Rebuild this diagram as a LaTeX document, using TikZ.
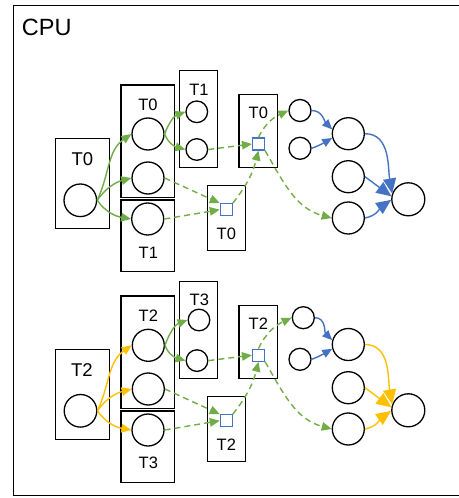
\documentclass[tikz,border=0pt]{standalone}
\usepackage{fontspec}
\setmainfont{Liberation Sans}
\usetikzlibrary{arrows.meta}
\definecolor{leafgreen}{HTML}{70AD47}
\definecolor{cblue}{HTML}{4472C4}
\definecolor{amber}{HTML}{FFC000}

% connectors of one pipeline: #1 name prefix, #2 colour of the fan-out, #3 colour of the merge
\newcommand\wiregroup[3]{%
  \draw[flow,color=#2] (#1cL.east) to[out=65,in=215] (#1cM1.west);
  \draw[flow,color=#2] (#1cL.east) to[out=55,in=195] (#1cM2.west);
  \draw[flow,color=#2] (#1cL.east) to[out=-55,in=170] (#1cB.west);
  \draw[gsolid] (#1cM1.east) to[out=70,in=200] (#1cS1.west);
  \draw[gsolid] (#1cM1.east) to[out=-70,in=165] (#1cS2.west);
  \draw[gdash] (#1cS2.east) -- (#1sqR.west);
  \draw[gdash] (#1cM2.east) -- (#1sqQ.north west);
  \draw[gdash] (#1cB.east) -- (#1sqQ.west);
  \draw[gdash] (#1sqQ.north east) to[bend right=12] (#1sqR.south);
  \draw[gdash] (#1sqR.north) to[out=65,in=205] (#1p1.west);
  \draw[gdash] (#1sqR.south east) to[out=-60,in=165] (#1m3.west);
  \draw[flow,color=cblue] (#1p1.east) to[out=0,in=135] (#1m1.165);
  \draw[flow,color=cblue] (#1p2.east) to[out=20,in=210] (#1m1.195);
  \draw[merge,color=#3] (#1m1.east) to[out=0,in=100] (#1big.160);
  \draw[merge,color=#3] (#1m2.east) -- (#1big.170);
  \draw[merge,color=#3] (#1m3.east) to[out=10,in=215] (#1big.182);
}

\begin{document}
\begin{tikzpicture}[x=1bp,y=-1bp,
  box/.style={draw,line width=1.4bp,inner sep=0pt},
  lbl/.style={font=\fontsize{16.5bp}{19bp}\selectfont,inner sep=0pt},
  bigl/.style={font=\fontsize{18.5bp}{21bp}\selectfont,inner sep=0pt},
  ring/.style={circle,draw,line width=1.3bp,inner sep=0pt,minimum size=#1},
  port/.style={draw=cblue,line width=1.1bp,minimum size=12bp,inner sep=0pt},
  flow/.style={line width=1.4bp,-{Triangle[length=10bp,width=8.5bp]}},
  gsolid/.style={flow,color=leafgreen},
  gdash/.style={flow,color=leafgreen,dash pattern=on 6bp off 4bp},
  merge/.style={line width=1.4bp,-{Triangle[length=15bp,width=13bp]}}]
\useasboundingbox (0,0) rectangle (459,498);

% outer frame
\node[box,minimum width=447.2bp,minimum height=490.4bp] (cpu) at (236.9,250.5) {};
\node[font=\fontsize{23.5bp}{28bp}\selectfont,inner sep=0pt] (cpulbl) at (46.7,27.5) {CPU};

% ---- upper pipeline ----
\node[box,minimum width=53.6bp,minimum height=90bp] (aboxL) at (82.5,183.3) {};
\node[bigl] (alabL) at (82.3,158.7) {T0};
\node[ring=32.6bp] (acL) at (80.3,200.3) {};
\node[box,minimum width=53.3bp,minimum height=112.3bp] (aboxM) at (147.7,141.2) {};
\node[lbl] (alabM) at (148,105) {T0};
\node[ring=32bp] (acM1) at (148,134) {};
\node[ring=32bp] (acM2) at (148,178) {};
\node[box,minimum width=53.3bp,minimum height=71.7bp] (aboxB) at (147.7,235.8) {};
\node[ring=32bp] (acB) at (147.7,219) {};
\node[lbl] (alabB) at (148.3,252.5) {T1};
\node[box,minimum width=38.4bp,minimum height=96.6bp] (aboxS) at (198.5,119) {};
\node[lbl] (alabS) at (199,89.5) {T1};
\node[ring=21.6bp] (acS1) at (196.8,111.8) {};
\node[ring=21.6bp] (acS2) at (196.8,149.5) {};
\node[box,minimum width=38.5bp,minimum height=73.4bp] (aboxR) at (258.3,131) {};
\node[lbl] (alabR) at (258.3,112.8) {T0};
\node[port] (asqR) at (258.5,144) {};
\node[box,minimum width=38.2bp,minimum height=64.8bp] (aboxQ) at (226.4,218.1) {};
\node[port] (asqQ) at (226.3,209.7) {};
\node[lbl] (alabQ) at (226.3,233.5) {T0};
\node[ring=22bp] (ap1) at (300,110.5) {};
\node[ring=22bp] (ap2) at (300,148.3) {};
\node[ring=32bp] (am1) at (348.3,133.7) {};
\node[ring=32bp] (am2) at (348.3,176.7) {};
\node[ring=32bp] (am3) at (348.3,218) {};
\node[ring=33bp] (abig) at (408.3,199.3) {};
\wiregroup{a}{leafgreen}{cblue}

% ---- lower pipeline ----
\node[box,minimum width=53.6bp,minimum height=90bp] (bboxL) at (82.5,394.3) {};
\node[bigl] (blabL) at (81.8,370) {T2};
\node[ring=32.6bp] (bcL) at (80.5,410.8) {};
\node[box,minimum width=53.3bp,minimum height=112.3bp] (bboxM) at (147.7,352.2) {};
\node[lbl] (blabM) at (148.3,315.5) {T2};
\node[ring=32bp] (bcM1) at (148.3,345.3) {};
\node[ring=32bp] (bcM2) at (148.3,389) {};
\node[box,minimum width=53.3bp,minimum height=71.7bp] (bboxB) at (147.7,446.8) {};
\node[ring=32bp] (bcB) at (148,430) {};
\node[lbl] (blabB) at (148.3,463) {T3};
\node[box,minimum width=38.4bp,minimum height=96.6bp] (bboxS) at (198.5,330) {};
\node[lbl] (blabS) at (199.3,300) {T3};
\node[ring=21.6bp] (bcS1) at (199,320) {};
\node[ring=21.6bp] (bcS2) at (197,360.6) {};
\node[box,minimum width=38.5bp,minimum height=73.4bp] (bboxR) at (258.3,342) {};
\node[lbl] (blabR) at (258.3,323.5) {T2};
\node[port] (bsqR) at (258.5,355.2) {};
\node[box,minimum width=38.2bp,minimum height=64.8bp] (bboxQ) at (226.4,429.1) {};
\node[port] (bsqQ) at (226.3,420.7) {};
\node[lbl] (blabQ) at (226.3,444.5) {T2};
\node[ring=22bp] (bp1) at (303.3,317.7) {};
\node[ring=22bp] (bp2) at (300,359.3) {};
\node[ring=32bp] (bm1) at (348.3,344.5) {};
\node[ring=32bp] (bm2) at (348.3,387.7) {};
\node[ring=32bp] (bm3) at (348.3,429) {};
\node[ring=33bp] (bbig) at (408.3,410.3) {};
\wiregroup{b}{amber}{amber}
\end{tikzpicture}
\end{document}
